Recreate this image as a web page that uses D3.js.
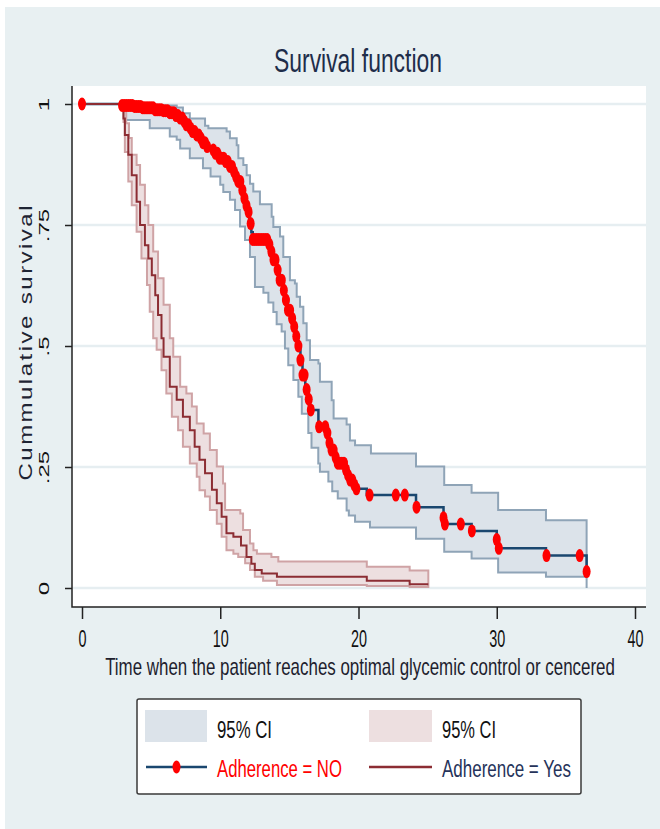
<!DOCTYPE html>
<html>
<head>
<meta charset="utf-8">
<script src="https://cdn.jsdelivr.net/npm/d3@7"></script>
<style>
  body { margin: 0; background: #fff; }
  text { font-family: "Liberation Sans", Arial, sans-serif; }
</style>
</head>
<body>
<script>
// Kaplan-Meier curves as [time, survival] steps
const noCurve = [[0,1],[2.9,0.997],[3.8,0.995],[4.4,0.992],[5.2,0.988],[5.8,0.986],[6.3,0.982],[6.7,0.976],[7.0,0.971],[7.3,0.964],[7.55,0.957],[7.8,0.95],[8.0,0.943],[8.25,0.936],[8.5,0.929],[8.75,0.92],[8.95,0.912],[9.3,0.905],[9.6,0.898],[9.95,0.888],[10.4,0.881],[10.65,0.871],[10.9,0.86],[11.1,0.85],[11.3,0.84],[11.5,0.822],[11.65,0.805],[11.8,0.79],[11.95,0.777],[12.1,0.753],[12.25,0.735],[12.35,0.72],[13.5,0.71],[13.65,0.695],[13.8,0.678],[14.05,0.657],[14.3,0.636],[14.5,0.615],[14.65,0.595],[14.9,0.574],[15.1,0.557],[15.25,0.54],[15.45,0.52],[15.6,0.5],[15.8,0.471],[15.95,0.44],[16.15,0.41],[16.3,0.39],[16.45,0.368],[17.1,0.333],[17.65,0.32],[17.85,0.3],[18.05,0.285],[18.25,0.27],[18.4,0.258],[19.0,0.244],[19.2,0.233],[19.4,0.223],[19.6,0.213],[19.85,0.205],[20.6,0.192],[24.16,0.167],[26.15,0.145],[26.25,0.132],[28.18,0.118],[30.0,0.1],[30.15,0.082],[33.56,0.067],[36.5,0.034]];
const noUpper = [[0,1],[4.4,0.997],[6.85,0.993],[7.3,0.981],[7.8,0.97],[8.9,0.955],[9.14,0.95],[10.46,0.943],[10.7,0.929],[11.19,0.915],[11.31,0.888],[11.67,0.874],[11.91,0.853],[12.15,0.835],[12.39,0.819],[12.87,0.793],[13.72,0.767],[13.84,0.746],[14.32,0.726],[14.56,0.684],[15.04,0.636],[15.4,0.629],[15.53,0.602],[15.77,0.581],[16.01,0.547],[16.25,0.512],[16.49,0.471],[17.1,0.464],[17.21,0.426],[18.06,0.388],[18.2,0.35],[19.14,0.338],[19.38,0.305],[19.75,0.295],[20.9,0.278],[24.16,0.251],[26.2,0.213],[28.18,0.197],[30.1,0.161],[33.56,0.14],[36.5,0.14]];
const noLower = [[0,1],[2.9,0.99],[3.1,0.967],[4.9,0.95],[6.35,0.933],[6.85,0.926],[7.1,0.908],[7.8,0.888],[8.75,0.867],[9.3,0.85],[10.0,0.833],[10.22,0.818],[10.7,0.802],[11.07,0.781],[11.43,0.747],[11.79,0.719],[12.15,0.684],[12.51,0.622],[13.12,0.61],[13.48,0.59],[13.84,0.57],[14.08,0.545],[14.44,0.53],[14.68,0.495],[14.92,0.46],[15.29,0.43],[15.65,0.395],[15.9,0.36],[16.37,0.32],[16.6,0.29],[17.09,0.257],[17.21,0.24],[17.82,0.22],[18.1,0.2],[18.5,0.185],[19.14,0.16],[19.3,0.15],[19.75,0.137],[20.83,0.125],[24.16,0.102],[26.2,0.075],[28.18,0.061],[30.1,0.032],[33.56,0.023],[36.5,0]];
// times of the red markers on the "NO" curve
const noMarks = [0,2.9,3.05,3.2,3.35,3.5,3.65,3.8,3.95,4.1,4.25,4.4,4.55,4.7,4.85,5.0,5.15,5.3,5.45,5.6,5.75,5.9,6.05,6.2,6.35,6.5,6.65,6.8,6.95,7.1,7.25,7.4,7.55,7.7,7.85,8.0,8.15,8.3,8.45,8.6,8.75,8.9,9.05,9.5,9.65,9.8,9.95,10.1,10.25,10.4,10.55,10.7,10.85,11.0,11.15,11.3,11.45,11.6,11.75,11.9,12.05,12.2,12.35,12.5,12.65,12.8,12.95,13.1,13.25,13.4,13.55,13.7,13.85,14.0,14.15,14.3,14.45,14.6,14.75,14.9,15.05,15.2,15.35,15.5,15.65,15.8,15.95,16.1,16.25,16.4,16.55,17.15,17.6,17.75,17.9,18.05,18.2,18.35,18.5,18.65,18.8,18.95,19.1,19.25,19.4,19.55,19.7,19.85,20.8,22.7,23.35,24.2,26.15,26.25,27.4,28.2,30.0,30.15,33.6,36.0,36.5];

const yesCurve = [[0,1],[3.0,0.97],[3.1,0.936],[3.35,0.895],[3.6,0.853],[3.95,0.798],[4.2,0.75],[4.55,0.708],[4.8,0.681],[5.05,0.646],[5.3,0.605],[5.5,0.564],[5.75,0.516],[5.9,0.478],[6.35,0.416],[6.85,0.389],[7.3,0.354],[7.8,0.326],[8.15,0.292],[8.5,0.265],[8.9,0.237],[9.4,0.203],[9.75,0.175],[10.1,0.147],[10.45,0.113],[10.95,0.106],[11.5,0.088],[11.9,0.064],[12.25,0.05],[12.5,0.037],[13.0,0.03],[14.1,0.023],[20.6,0.015],[23.7,0.008],[25.05,0.008]];
const yesUpper = [[0,1],[3.05,0.985],[3.2,0.96],[3.4,0.93],[3.6,0.895],[3.95,0.874],[4.2,0.833],[4.55,0.791],[4.8,0.75],[5.15,0.695],[5.5,0.64],[5.9,0.585],[6.35,0.516],[6.6,0.478],[7.1,0.416],[7.55,0.402],[7.95,0.375],[8.3,0.34],[8.8,0.319],[9.25,0.285],[9.75,0.251],[10.2,0.216],[10.35,0.161],[11.45,0.154],[11.65,0.12],[12.15,0.092],[12.4,0.078],[12.65,0.071],[13.7,0.064],[14.2,0.055],[20.6,0.044],[23.7,0.036],[25.05,0.036]];
const yesLower = [[0,1],[3.0,0.963],[3.1,0.901],[3.35,0.84],[3.6,0.791],[3.95,0.736],[4.3,0.681],[4.7,0.626],[4.9,0.571],[5.15,0.516],[5.4,0.492],[5.75,0.45],[6.1,0.402],[6.5,0.354],[6.95,0.326],[7.3,0.292],[7.8,0.257],[8.3,0.23],[8.5,0.202],[8.9,0.189],[9.25,0.161],[9.75,0.133],[10.1,0.106],[10.45,0.078],[10.95,0.071],[11.3,0.064],[11.8,0.051],[12.15,0.037],[12.5,0.023],[13.1,0.015],[14.1,0.006],[20.6,0.004],[23.7,0.002],[25.05,0.002]];

const xTicks = [0, 10, 20, 30, 40];
const yTicks = [0, 0.25, 0.5, 0.75, 1];
const yTickLabels = ["0", ".25", ".5", ".75", "1"];
const legendLabels = ["95% CI", "95% CI", "Adherence = NO", "Adherence = Yes"];

const width = 660, height = 829;
const plot = { left: 72, top: 86, right: 646, bottom: 607 };

const x = d3.scaleLinear().domain([0, 40]).range([82, 635]);
const y = d3.scaleLinear().domain([0, 1]).range([588, 104]);

const svg = d3.select("body").append("svg")
    .attr("width", width)
    .attr("height", height);

// squeeze a text horizontally so it fills w pixels (the original is a narrow face)
function squeeze(text, tx, ty, w) {
    const natural = text.node().getComputedTextLength();
    text.attr("transform", `translate(${tx},${ty}) scale(${w / natural},1)`);
    return text;
}

// graph region + plot region
svg.append("rect")
    .attr("x", 5).attr("y", 7)
    .attr("width", width - 5).attr("height", height - 7)
    .attr("fill", "#e8f0f2");

svg.append("rect")
    .attr("x", plot.left).attr("y", plot.top)
    .attr("width", plot.right - plot.left).attr("height", plot.bottom - plot.top)
    .attr("fill", "#fff");

const title = svg.append("text")
    .attr("text-anchor", "middle")
    .attr("font-size", 33)
    .attr("fill", "#1e2d4a")
    .text("Survival function");
squeeze(title, 358, 72, 168);

// gridlines
svg.append("g").selectAll("line")
    .data(yTicks)
    .join("line")
    .attr("x1", plot.left).attr("x2", plot.right)
    .attr("y1", d => y(d)).attr("y2", d => y(d))
    .attr("stroke", "#e6eef1")
    .attr("stroke-width", 2.5);

// value of a step function at time t
function stepAt(steps, t) {
    let v = steps[0][1];
    for (const [tt, s] of steps) {
        if (tt <= t + 1e-9) v = s;
        else break;
    }
    return v;
}

function bandData(lower, upper) {
    const times = Array.from(new Set(lower.map(d => d[0]).concat(upper.map(d => d[0])))).sort((a, b) => a - b);
    return times.map(t => ({ t: t, lo: stepAt(lower, t), hi: stepAt(upper, t) }));
}

const band = d3.area()
    .curve(d3.curveStepAfter)
    .x(d => x(d.t))
    .y0(d => y(d.lo))
    .y1(d => y(d.hi));

const line = d3.line()
    .curve(d3.curveStepAfter)
    .x(d => x(d[0]))
    .y(d => y(d[1]));

svg.append("path")
    .datum(bandData(noLower, noUpper))
    .attr("d", band)
    .attr("fill", "#dce3ea")
    .attr("stroke", "#8fa4b7")
    .attr("stroke-width", 2);

svg.append("path")
    .datum(bandData(yesLower, yesUpper))
    .attr("d", band)
    .attr("fill", "#eddfe0")
    .attr("stroke", "#cfa3a5")
    .attr("stroke-width", 2);

svg.append("path")
    .datum(noCurve)
    .attr("d", line)
    .attr("fill", "none")
    .attr("stroke", "#1a476f")
    .attr("stroke-width", 2.5);

svg.append("path")
    .datum(yesCurve)
    .attr("d", line)
    .attr("fill", "none")
    .attr("stroke", "#8c2d33")
    .attr("stroke-width", 2);

svg.append("g").selectAll("ellipse")
    .data(noMarks)
    .join("ellipse")
    .attr("cx", d => x(d))
    .attr("cy", d => y(stepAt(noCurve, d)))
    .attr("rx", 4)
    .attr("ry", 6.5)
    .attr("fill", "#ff0000");

// axes
const xAxis = svg.append("g")
    .attr("transform", `translate(0,${plot.bottom})`)
    .call(d3.axisBottom(x).tickValues(xTicks).tickSize(12).tickSizeOuter(0));
xAxis.select(".domain").remove();
xAxis.selectAll("line").attr("stroke", "#222").attr("stroke-width", 1.5);
xAxis.selectAll("text")
    .attr("y", null).attr("dy", null)
    .attr("font-size", 24)
    .attr("fill", "#111")
    .attr("transform", "translate(0,40) scale(0.6,1)");

const yAxis = svg.append("g")
    .attr("transform", `translate(${plot.left},0)`)
    .call(d3.axisLeft(y).tickValues(yTicks).tickFormat((d, i) => yTickLabels[i]).tickSize(7).tickSizeOuter(0));
yAxis.select(".domain").remove();
yAxis.selectAll("line").attr("stroke", "#222").attr("stroke-width", 1.5);
yAxis.selectAll("text")
    .attr("x", null).attr("dy", null)
    .attr("text-anchor", "middle")
    .attr("font-size", 24)
    .attr("fill", "#111")
    .attr("transform", "translate(-23,0) scale(0.62,1) rotate(-90)");

svg.append("path")
    .attr("d", `M${plot.left},${plot.top}V${plot.bottom}H${plot.right}`)
    .attr("fill", "none")
    .attr("stroke", "#222")
    .attr("stroke-width", 1.5);

svg.append("text")
    .attr("text-anchor", "middle")
    .attr("font-size", 24)
    .attr("fill", "#1e2433")
    .attr("textLength", 275)
    .attr("lengthAdjust", "spacing")
    .attr("transform", "translate(32,343) scale(0.8,1) rotate(-90)")
    .text("Cummulative survival");

const xTitle = svg.append("text")
    .attr("text-anchor", "middle")
    .attr("font-size", 24)
    .attr("fill", "#1e1e2e")
    .text("Time when the patient reaches optimal glycemic control or cencered");
squeeze(xTitle, 360, 675, 510);

// legend
const legend = svg.append("g");
legend.append("rect")
    .attr("x", 137).attr("y", 699)
    .attr("width", 444).attr("height", 95)
    .attr("rx", 2)
    .attr("fill", "#fff")
    .attr("stroke", "#3a3a3a")
    .attr("stroke-width", 1.5);

legend.append("rect").attr("x", 145).attr("y", 710).attr("width", 62).attr("height", 32).attr("fill", "#dce3ea");
legend.append("rect").attr("x", 369).attr("y", 710).attr("width", 63).attr("height", 32).attr("fill", "#eddfe0");

legend.append("line").attr("x1", 146).attr("x2", 207).attr("y1", 767).attr("y2", 767)
    .attr("stroke", "#1a476f").attr("stroke-width", 2.5);
legend.append("ellipse").attr("cx", 176.5).attr("cy", 767).attr("rx", 4).attr("ry", 6.5).attr("fill", "#ff0000");
legend.append("line").attr("x1", 369).attr("x2", 432).attr("y1", 767).attr("y2", 767)
    .attr("stroke", "#8c2d33").attr("stroke-width", 2.5);

const legendItems = [
    { x: 217, y: 738, w: 55, fill: "#111" },
    { x: 442, y: 738, w: 54, fill: "#111" },
    { x: 217, y: 777, w: 125, fill: "#ff0000" },
    { x: 442, y: 777, w: 129, fill: "#26335a" }
];
legend.selectAll("text.lab")
    .data(legendItems)
    .join("text")
    .attr("class", "lab")
    .attr("font-size", 24)
    .attr("fill", d => d.fill)
    .text((d, i) => legendLabels[i])
    .each(function(d) { squeeze(d3.select(this), d.x, d.y, d.w); });
</script>
</body>
</html>
